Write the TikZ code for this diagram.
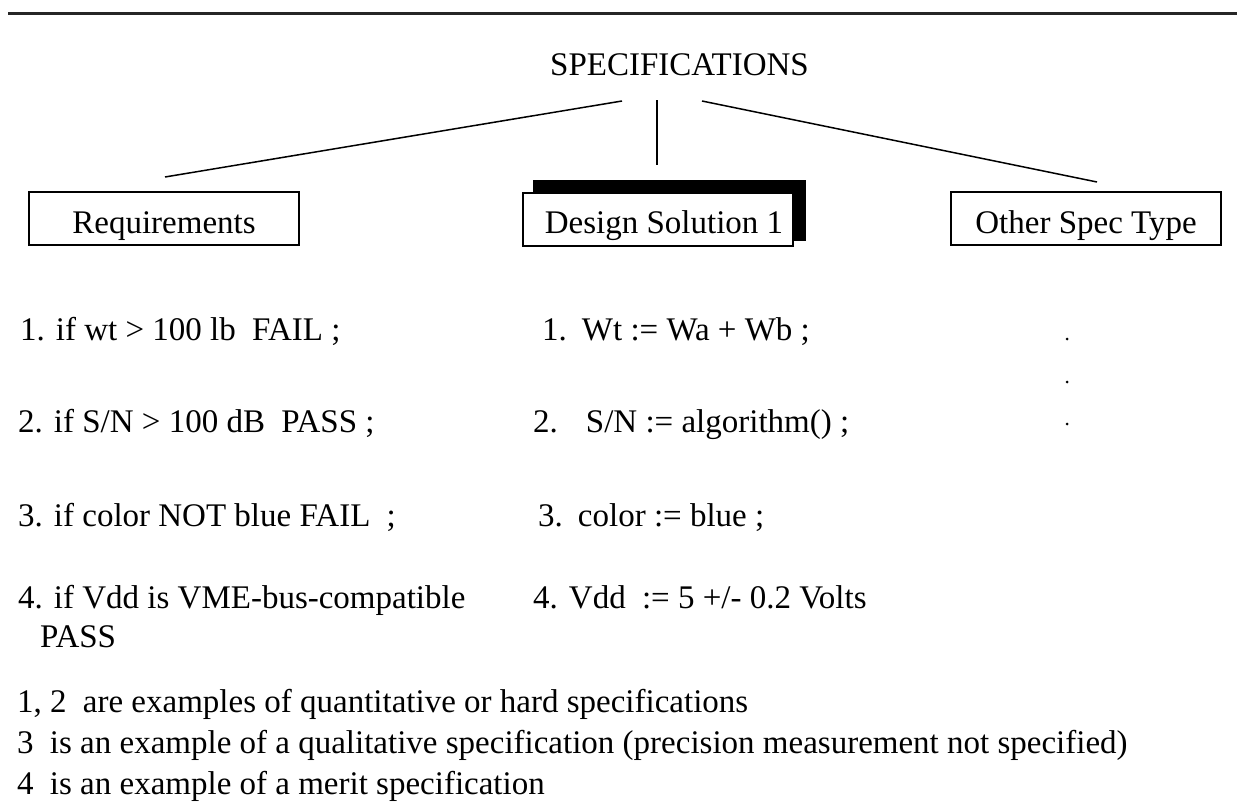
\documentclass[tikz,border=0pt]{standalone}
\usepackage{fontspec}
\setmainfont{Liberation Serif}
\begin{document}
\begin{tikzpicture}[x=1pt,y=-1pt,
  txt/.style={anchor=base west,inner sep=0pt,font=\fontsize{33}{39}\selectfont},
  specbox/.style={draw=black,line width=2pt,fill=white,minimum width=270pt,minimum height=53pt,
     inner sep=0pt,text height=29pt,text depth=0pt,font=\fontsize{33}{39}\selectfont},
  conn/.style={line width=1.5pt},
  dotmark/.style={circle,fill=black,inner sep=0pt,minimum size=3pt}]
\useasboundingbox (0,0) rectangle (1237,808);
\fill[white] (0,0) rectangle (1237,808);
% top rule
\coordinate (ruleL) at (8,14);
\coordinate (ruleR) at (1237,14);
\draw[line width=3pt,black!85] (ruleL) -- (ruleR);
% title
\node[txt] (spec) at (550,76) {SPECIFICATIONS};
\coordinate (cL) at (622,101);
\coordinate (cM) at (657,100);
\coordinate (cR) at (702,101);
% boxes
\fill[black] (533,180) rectangle (806,241);
\node[specbox] (req) at (164,218.5) {Requirements\hspace{17pt}};
\node[specbox] (des) at (658,219) {\hspace{12pt}Design Solution 1};
\node[specbox] (oth) at (1086,218.5) {Other Spec Type};
\coordinate (eL) at (165,177);
\coordinate (eM) at (657,165);
\coordinate (eR) at (1097,182);
\draw[conn] (cL) -- (eL);
\draw[conn] (cM) -- (eM);
\draw[conn] (cR) -- (eR);
% left column
\node[txt] (r1) at (20,340) {1. if wt > 100 lb\hspace{8pt} FAIL ;};
\node[txt] (r2) at (18,432) {2. if S/N > 100 dB\hspace{8pt} PASS ;};
\node[txt] (r3) at (18,526) {3. if color NOT blue FAIL\hspace{8pt} ;};
\node[txt] (r4) at (18,608) {4. if Vdd is VME-bus-compatible};
\node[txt] (r4b) at (40,647) {PASS};
% middle column
\node[txt] (d1) at (542,340) {1.\hspace{15pt}Wt := Wa + Wb ;};
\node[txt] (d2) at (533,432) {2.\hspace{28pt}S/N := algorithm() ;};
\node[txt] (d3) at (538,526) {3.\hspace{15pt}color := blue ;};
\node[txt] (d4) at (533,608) {4. Vdd\hspace{8pt} := 5 +/- 0.2 Volts};
% right column dots
\node[dotmark] (o1) at (1067,339) {};
\node[dotmark] (o2) at (1067,382) {};
\node[dotmark] (o3) at (1067,424) {};
% footnotes
\node[txt] (f1) at (17,712) {1, 2\hspace{8pt} are examples of quantitative or hard specifications};
\node[txt] (f2) at (17,753) {3\hspace{8pt} is an example of a qualitative specification (precision measurement not specified)};
\node[txt] (f3) at (17,794) {4\hspace{8pt} is an example of a merit specification};
\end{tikzpicture}
\end{document}
